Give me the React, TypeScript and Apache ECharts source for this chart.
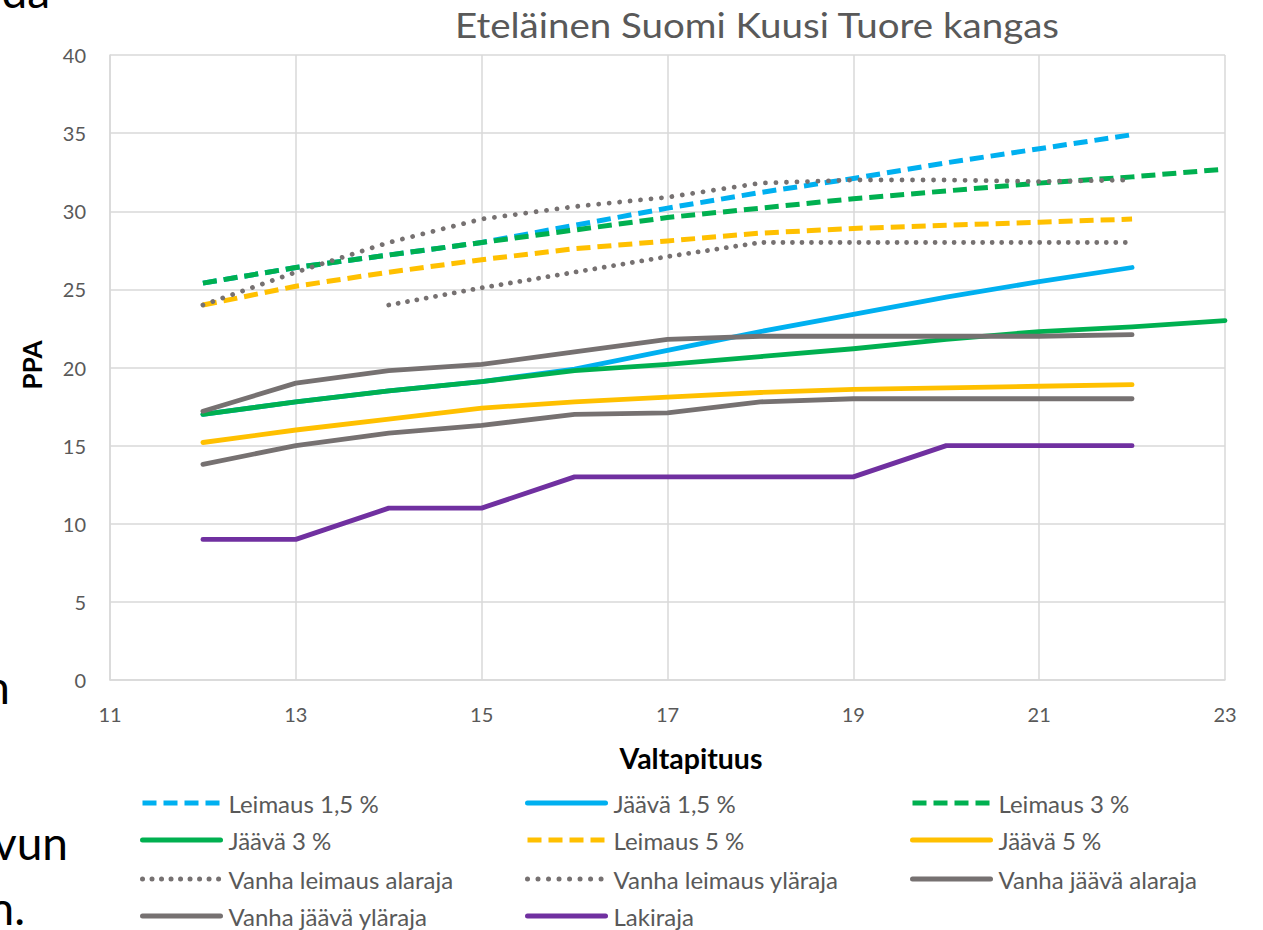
import React, { useEffect, useRef } from "react";
import * as echarts from "echarts";

const valtapituus = [12, 13, 14, 15, 16, 17, 18, 19, 20, 21, 22, 23];
const leimaus15 = [25.4, 26.4, 27.2, 28.0, 29.1, 30.2, 31.2, 32.1, 33.1, 34.0, 34.9, null];
const jaava15 = [17.0, 17.8, 18.5, 19.1, 19.9, 21.1, 22.3, 23.4, 24.5, 25.5, 26.4, null];
const leimaus3 = [25.4, 26.4, 27.2, 28.0, 28.8, 29.6, 30.2, 30.8, 31.3, 31.8, 32.2, 32.7];
const jaava3 = [17.0, 17.8, 18.5, 19.1, 19.8, 20.2, 20.7, 21.2, 21.8, 22.3, 22.6, 23.0];
const leimaus5 = [24.0, 25.2, 26.1, 26.9, 27.6, 28.1, 28.6, 28.9, 29.1, 29.3, 29.5, null];
const jaava5 = [15.2, 16.0, 16.7, 17.4, 17.8, 18.1, 18.4, 18.6, 18.7, 18.8, 18.9, null];
const vanhaLeimausAla = [null, null, 24.0, 25.1, 26.1, 27.1, 28.0, 28.0, 28.0, 28.0, 28.0, null];
const vanhaLeimausYla = [24.0, 26.1, 28.0, 29.5, 30.3, 30.9, 31.8, 32.0, 32.0, 31.9, 32.0, null];
const vanhaJaavaAla = [13.8, 15.0, 15.8, 16.3, 17.0, 17.1, 17.8, 18.0, 18.0, 18.0, 18.0, null];
const vanhaJaavaYla = [17.2, 19.0, 19.8, 20.2, 21.0, 21.8, 22.0, 22.0, 22.0, 22.0, 22.1, null];
const lakiraja = [9, 9, 11, 11, 13, 13, 13, 13, 15, 15, 15, null];

const seriesNames = [
  "Leimaus 1,5 %",
  "Jäävä 1,5 %",
  "Leimaus 3 %",
  "Jäävä 3 %",
  "Leimaus 5 %",
  "Jäävä 5 %",
  "Vanha leimaus alaraja",
  "Vanha leimaus yläraja",
  "Vanha jäävä alaraja",
  "Vanha jäävä yläraja",
  "Lakiraja",
];
const seriesValues = [
  leimaus15, jaava15, leimaus3, jaava3, leimaus5, jaava5,
  vanhaLeimausAla, vanhaLeimausYla, vanhaJaavaAla, vanhaJaavaYla, lakiraja,
];

const BLUE = "#00B0F0";
const GREEN = "#00B050";
const YELLOW = "#FFC000";
const GREY = "#767171";
const PURPLE = "#7030A0";

const DASH = [14, 7];
const styles = [
  { color: BLUE, type: DASH, width: 5, cap: "butt" },
  { color: BLUE, type: "solid", width: 4.8, cap: "round" },
  { color: GREEN, type: DASH, width: 5, cap: "butt" },
  { color: GREEN, type: "solid", width: 4.8, cap: "round" },
  { color: YELLOW, type: DASH, width: 5, cap: "butt" },
  { color: YELLOW, type: "solid", width: 4.8, cap: "round" },
  { color: GREY, type: [0.01, 9.5], width: 4.8, cap: "round" },
  { color: GREY, type: [0.01, 10.5], width: 4.8, cap: "round" },
  { color: GREY, type: "solid", width: 4.8, cap: "round" },
  { color: GREY, type: "solid", width: 4.8, cap: "round" },
  { color: PURPLE, type: "solid", width: 4.8, cap: "round" },
];

const FONT = "Lato, Calibri, 'Open Sans', sans-serif";
const TEXT_GREY = "#595959";

// legend grid: column of each item's icon left edge, row centre
const legendColumns = [140, 525, 910];
const legendRows = [803, 840, 879, 916];

function legendItem(i: number) {
  const col = i % 3;
  const row = Math.floor(i / 3);
  return {
    left: legendColumns[col],
    top: legendRows[row] - 12,
    padding: 0,
    itemWidth: 78,
    itemHeight: 14,
    data: [seriesNames[i]],
    itemStyle: { opacity: 0 },
    lineStyle: { width: 5 },
    textStyle: {
      fontFamily: FONT,
      fontSize: 24,
      lineHeight: 24,
      color: TEXT_GREY,
      padding: [0, 0, 0, 3],
    },
  };
}

function baselineText(text: string, right: number, baseline: number, size: number) {
  return {
    type: "text",
    x: right,
    y: baseline - 0.387 * size,
    style: {
      text,
      fill: "#000000",
      font: `${size}px ${FONT}`,
      textAlign: "right",
      textVerticalAlign: "middle",
    },
  };
}

export default function App() {
  const ref = useRef<HTMLDivElement>(null);
  useEffect(() => {
    if (!ref.current) return;
    const chart = echarts.init(ref.current, null, { renderer: "svg" });
    const series = seriesNames.map((name, i) => ({
      name,
      type: "line",
      symbol: "none",
      smooth: false,
      data: valtapituus
        .map((x, j) => [x, seriesValues[i][j]])
        .filter((p) => p[1] !== null),
      lineStyle: {
        color: styles[i].color,
        type: styles[i].type,
        width: styles[i].width,
        cap: styles[i].cap,
        join: "round",
      },
      itemStyle: { color: styles[i].color },
      z: 2 + i,
    }));
    chart.setOption({
      animation: false,
      backgroundColor: "#ffffff",
      grid: { left: 110, right: 38, top: 55, bottom: 250, containLabel: false },
      xAxis: {
        type: "value",
        min: 11,
        max: 23,
        interval: 2,
        axisLine: { show: true, lineStyle: { color: "#D9D9D9", width: 1.5 } },
        axisTick: { show: false },
        splitLine: { show: true, lineStyle: { color: "#D9D9D9", width: 1.5 } },
        axisLabel: { fontFamily: FONT, fontSize: 20, color: TEXT_GREY, margin: 24 },
      },
      yAxis: {
        type: "value",
        min: 0,
        max: 40,
        interval: 5,
        axisLine: { show: true, lineStyle: { color: "#D9D9D9", width: 1.5 } },
        axisTick: { show: false },
        splitLine: { show: true, lineStyle: { color: "#D9D9D9", width: 1.5 } },
        axisLabel: { fontFamily: FONT, fontSize: 20, color: TEXT_GREY, margin: 24 },
      },
      legend: seriesNames.map((_, i) => legendItem(i)),
      graphic: [
        {
          type: "text",
          x: 757,
          y: 25,
          scaleX: 1.1,
          style: {
            text: "Eteläinen Suomi Kuusi Tuore kangas",
            fill: TEXT_GREY,
            font: `35px ${FONT}`,
            textAlign: "center",
            textVerticalAlign: "middle",
          },
        },
        {
          type: "text",
          x: 32,
          y: 365,
          rotation: Math.PI / 2,
          style: {
            text: "PPA",
            fill: "#000000",
            font: `bold 26px ${FONT}`,
            textAlign: "center",
            textVerticalAlign: "middle",
          },
        },
        {
          type: "text",
          x: 691,
          y: 758,
          style: {
            text: "Valtapituus",
            fill: "#000000",
            font: `bold 28.5px ${FONT}`,
            textAlign: "center",
            textVerticalAlign: "middle",
          },
        },
        baselineText("da", 50, 8, 46),
        baselineText("n", 10, 704, 46),
        baselineText("vun", 68, 860, 46),
        baselineText("n.", 25, 925, 46),
      ],
      series,
    });
    return () => chart.dispose();
  }, []);
  return (
    <div
      ref={ref}
      style={{ position: "fixed", left: 0, top: 0, width: 1263, height: 930 }}
    />
  );
}
